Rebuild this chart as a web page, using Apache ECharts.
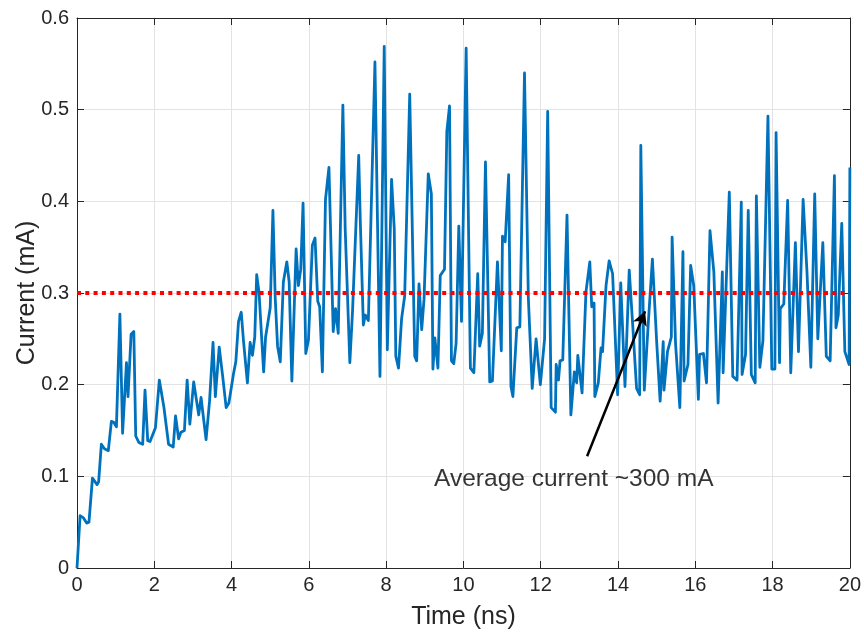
<!DOCTYPE html>
<html>
<head>
<meta charset="utf-8">
<script src="https://cdn.jsdelivr.net/npm/echarts/dist/echarts.min.js"></script>
<style>
html,body{margin:0;padding:0;background:#fff;}
#chart{width:864px;height:635px;}
</style>
</head>
<body>
<div id="chart"></div>
<script>
// ---- data ----
const times = [0,0.08,0.16,0.25,0.31,0.40,0.45,0.52,0.56,0.63,0.71,0.81,0.89,0.95,1.02,1.06,1.11,1.18,1.28,1.32,1.40,1.47,1.52,1.60,1.65,1.70,1.76,1.83,1.89,2.03,2.13,2.25,2.37,2.49,2.55,2.63,2.69,2.78,2.85,2.92,3.02,3.15,3.21,3.34,3.43,3.52,3.58,3.68,3.77,3.86,3.93,4.05,4.11,4.18,4.25,4.31,4.41,4.48,4.54,4.60,4.65,4.71,4.83,4.88,5.00,5.07,5.13,5.19,5.26,5.34,5.43,5.49,5.56,5.67,5.73,5.79,5.85,5.92,5.99,6.09,6.16,6.23,6.28,6.35,6.43,6.52,6.63,6.69,6.76,6.88,6.94,7.06,7.13,7.29,7.33,7.41,7.46,7.54,7.71,7.84,7.95,8.03,8.14,8.21,8.25,8.32,8.40,8.48,8.61,8.74,8.79,8.85,8.92,8.98,9.01,9.09,9.17,9.21,9.26,9.29,9.34,9.40,9.51,9.57,9.64,9.69,9.75,9.81,9.88,9.95,10.07,10.18,10.27,10.37,10.42,10.49,10.57,10.68,10.75,10.88,10.98,11.01,11.08,11.17,11.23,11.28,11.38,11.46,11.58,11.68,11.78,11.88,11.99,12.10,12.18,12.27,12.38,12.40,12.46,12.50,12.57,12.68,12.78,12.87,12.93,12.96,13.07,13.17,13.27,13.32,13.38,13.40,13.49,13.56,13.60,13.69,13.77,13.86,13.90,13.99,14.07,14.18,14.29,14.37,14.48,14.56,14.59,14.68,14.78,14.89,15.00,15.09,15.17,15.19,15.28,15.38,15.40,15.49,15.60,15.68,15.71,15.81,15.88,15.96,16.08,16.11,16.21,16.29,16.38,16.48,16.59,16.70,16.72,16.88,16.97,17.08,17.19,17.21,17.30,17.37,17.45,17.55,17.58,17.67,17.75,17.88,17.98,18.06,18.09,18.18,18.20,18.29,18.39,18.47,18.59,18.67,18.79,18.89,18.99,19.09,19.17,19.30,19.39,19.49,19.60,19.64,19.70,19.79,19.87,19.98,20.00];
const current = [0,0.057,0.055,0.049,0.05,0.098,0.097,0.091,0.094,0.135,0.13,0.128,0.16,0.159,0.154,0.153,0.277,0.147,0.224,0.187,0.255,0.258,0.144,0.137,0.139,0.135,0.194,0.139,0.138,0.153,0.205,0.175,0.135,0.132,0.166,0.141,0.148,0.15,0.205,0.157,0.203,0.167,0.186,0.14,0.182,0.246,0.187,0.241,0.209,0.175,0.18,0.212,0.225,0.269,0.279,0.247,0.202,0.246,0.232,0.252,0.32,0.301,0.214,0.252,0.284,0.39,0.294,0.242,0.225,0.312,0.334,0.312,0.204,0.348,0.308,0.326,0.398,0.234,0.249,0.352,0.36,0.291,0.285,0.214,0.402,0.437,0.258,0.283,0.256,0.505,0.37,0.224,0.28,0.45,0.38,0.265,0.276,0.27,0.552,0.209,0.569,0.238,0.424,0.37,0.231,0.218,0.272,0.297,0.517,0.231,0.226,0.31,0.26,0.293,0.295,0.43,0.408,0.217,0.251,0.249,0.218,0.319,0.326,0.476,0.504,0.226,0.223,0.245,0.373,0.269,0.567,0.218,0.213,0.321,0.242,0.256,0.443,0.203,0.204,0.334,0.237,0.362,0.356,0.429,0.198,0.187,0.262,0.263,0.54,0.294,0.196,0.25,0.2,0.25,0.498,0.175,0.17,0.222,0.205,0.226,0.227,0.385,0.167,0.214,0.202,0.232,0.191,0.301,0.334,0.285,0.289,0.187,0.202,0.24,0.236,0.308,0.335,0.321,0.32,0.189,0.311,0.198,0.325,0.272,0.196,0.189,0.461,0.194,0.265,0.337,0.247,0.182,0.247,0.194,0.236,0.252,0.361,0.244,0.175,0.345,0.204,0.222,0.33,0.308,0.184,0.233,0.234,0.202,0.368,0.323,0.18,0.323,0.213,0.41,0.209,0.205,0.399,0.211,0.233,0.39,0.211,0.202,0.406,0.219,0.248,0.493,0.217,0.217,0.475,0.224,0.283,0.288,0.401,0.213,0.355,0.236,0.402,0.323,0.219,0.408,0.25,0.355,0.231,0.226,0.428,0.262,0.276,0.376,0.236,0.222,0.437];
const xTickLabels = ['0','2','4','6','8','10','12','14','16','18','20'];
const yTickLabels = ['0','0.1','0.2','0.3','0.4','0.5','0.6'];
const averageLevel = 0.3;
const annotationText = 'Average current ~300 mA';
const annotationPos = [9.24, 0.097];
const arrowStart = [13.2, 0.122];
const arrowEnd = [14.7, 0.28];
const xName = 'Time (ns)';
const yName = 'Current (mA)';

// ---- chart ----
const FONT = "'Liberation Sans', Arial, Helvetica, sans-serif";
const AX = '#262626';
const chart = echarts.init(document.getElementById('chart'), null, {renderer: 'canvas'});
const lineData = times.map((t, i) => [t, current[i]]);

const baseX = {
  type: 'value', min: 0, max: 20, interval: 2,
  axisLine: {show: true, onZero: false, lineStyle: {color: AX, width: 1}},
  axisTick: {show: true, inside: true, length: 7, lineStyle: {color: AX, width: 1}},
};
const baseY = {
  type: 'value', min: 0, max: 0.6, interval: 0.1,
  axisLine: {show: true, onZero: false, lineStyle: {color: AX, width: 1}},
  axisTick: {show: true, inside: true, length: 7, lineStyle: {color: AX, width: 1}},
};

chart.setOption({
  animation: false,
  backgroundColor: '#fff',
  textStyle: {fontFamily: FONT},
  grid: {left: 77, right: 11, top: 18, bottom: 64, containLabel: false},
  xAxis: [
    Object.assign({}, baseX, {
      position: 'bottom',
      splitLine: {show: true, lineStyle: {color: '#e3e3e3', width: 1}},
      axisLabel: {show: true, color: AX, fontSize: 20, fontFamily: FONT, margin: 7,
        formatter: v => xTickLabels[Math.round(v / 2)]},
      name: xName, nameLocation: 'middle', nameGap: 37, nameMoveOverlap: false,
      nameTextStyle: {color: AX, fontSize: 25, fontFamily: FONT}
    }),
    Object.assign({}, baseX, {
      position: 'top', splitLine: {show: false}, axisLabel: {show: false}
    })
  ],
  yAxis: [
    Object.assign({}, baseY, {
      position: 'left',
      splitLine: {show: true, lineStyle: {color: '#e3e3e3', width: 1}},
      axisLabel: {show: true, color: AX, fontSize: 20, fontFamily: FONT, margin: 8,
        formatter: v => yTickLabels[Math.round(v * 10)]},
      name: yName, nameLocation: 'middle', nameGap: 37, nameMoveOverlap: false,
      nameTextStyle: {color: AX, fontSize: 25, fontFamily: FONT}
    }),
    Object.assign({}, baseY, {
      position: 'right', splitLine: {show: false}, axisLabel: {show: false}
    })
  ],
  series: [
    {
      type: 'line', xAxisIndex: 0, yAxisIndex: 0,
      data: lineData, showSymbol: false, symbol: 'none',
      lineStyle: {color: '#0072BD', width: 2.8, join: 'round'},
      z: 2, silent: true
    },
    {
      type: 'scatter', xAxisIndex: 0, yAxisIndex: 0,
      data: [annotationPos], symbolSize: 0, silent: true, z: 5,
      label: {show: true, position: 'right', distance: 0, formatter: annotationText,
        color: '#000', fontSize: 24.5, fontFamily: FONT},
      markLine: {
        silent: true, animation: false, z: 5,
        label: {show: false},
        data: [
          [{coord: [0, averageLevel], symbol: 'none', lineStyle: {color: '#ff0000', width: 4, type: [4, 4.3], cap: 'butt'}},
           {coord: [20, averageLevel], symbol: 'none'}],
          [{coord: arrowStart, symbol: 'none', lineStyle: {color: '#000', width: 2.5, type: 'solid'}},
           {coord: arrowEnd, symbol: 'arrow', symbolSize: [11, 14]}]
        ]
      }
    }
  ]
});
</script>
</body>
</html>
